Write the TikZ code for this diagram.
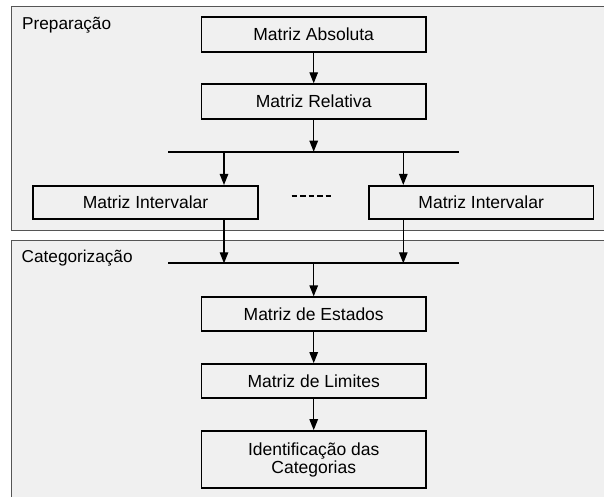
\documentclass[tikz,border=0pt]{standalone}
\usepackage{fontspec}
\setmainfont{Liberation Sans}
\usetikzlibrary{arrows.meta}
\definecolor{panelfill}{HTML}{F0F0F0}
\definecolor{panelline}{HTML}{555555}
\begin{document}
\begin{tikzpicture}[x=1pt,y=-1pt,
  panel/.style={draw=panelline,line width=1pt,fill=panelfill},
  stepbox/.style={draw=black,line width=1.8pt,fill=panelfill,inner sep=0pt,
    font=\fontsize{17.5}{18}\selectfont,align=center},
  barline/.style={line width=1.8pt},
  flow/.style={line width=1.3pt,-{Triangle[length=11pt,width=8.5pt]}},
  paneltitle/.style={anchor=base west,inner sep=0pt,font=\fontsize{17.2}{18}\selectfont}]
\useasboundingbox (0,0) rectangle (604,496);
\clip (0,0) rectangle (604,496);
\fill[white] (0,0) rectangle (604,496);
% panels
\draw[panel] (11.5,6.5) rectangle (612,230.5);
\draw[panel] (11.5,240.5) rectangle (612,505);
\node[paneltitle] (prep) at (22,29) {Preparação};
\node[paneltitle] (cat) at (21.5,262.5) {Categorização};
% boxes
\node[stepbox,minimum width=224.5pt,minimum height=34.4pt] (abs) at (313.7,34.5) {Matriz Absoluta};
\node[stepbox,minimum width=224.5pt,minimum height=34.4pt] (rel) at (313.7,101.4) {Matriz Relativa};
\node[stepbox,minimum width=224.4pt,minimum height=33.5pt] (intL) at (145.5,202.6) {Matriz Intervalar};
\node[stepbox,minimum width=224.4pt,minimum height=33.5pt] (intR) at (481.2,202.6) {Matriz Intervalar};
\node[stepbox,minimum width=224.5pt,minimum height=33.5pt] (est) at (313.7,314) {Matriz de Estados};
\node[stepbox,minimum width=224.5pt,minimum height=34.3pt] (lim) at (313.7,381.2) {Matriz de Limites};
\node[stepbox,minimum width=224.5pt,minimum height=57.3pt] (ident) at (313.7,459.7) {Identificação das\\Categorias};
% bars
\coordinate (b1w) at (168,151.7);
\coordinate (b1e) at (459,151.7);
\coordinate (b1c) at (313.7,151.7);
\coordinate (b1L) at (224,151.7);
\coordinate (b1R) at (403.3,151.7);
\coordinate (b2w) at (168,263.3);
\coordinate (b2e) at (459,263.3);
\coordinate (b2c) at (313.7,263.3);
\coordinate (b2L) at (224,263.3);
\coordinate (b2R) at (403.3,263.3);
\draw[barline] (b1w) -- (b1e);
\draw[barline] (b2w) -- (b2e);
% dashes
\coordinate (d1) at (291.7,196);
\coordinate (d2) at (331.7,196);
\draw[line width=1.8pt,dash pattern=on 5.5pt off 3pt] (d1) -- (d2);
% connectors
\draw[flow] (abs) -- (rel);
\draw[flow] (rel) -- (b1c);
\draw[flow] (b1L) -- (b1L |- intL.north);
\draw[flow] (b1R) -- (b1R |- intR.north);
\draw[flow] (b1L |- intL.south) -- (b2L);
\draw[flow] (b1R |- intR.south) -- (b2R);
\draw[flow] (b2c) -- (est);
\draw[flow] (est) -- (lim);
\draw[flow] (lim) -- (ident);
\end{tikzpicture}
\end{document}
